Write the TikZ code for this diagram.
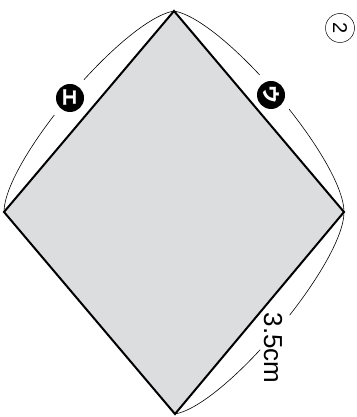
\documentclass[tikz,border=0pt]{standalone}
\usepackage{fontspec}
\newfontfamily\jpfont{Noto Sans CJK JP}
\newfontfamily\labfont{Liberation Sans}
\usetikzlibrary{positioning}
\definecolor{rhombgray}{RGB}{220,221,223}

\begin{document}
\begin{tikzpicture}[
  x=1pt, y=1pt,
  edge/.style = {draw=black, line width=2pt, line join=miter, fill=rhombgray},
  dimarc/.style = {draw=black, line width=0.6pt, looseness=0.5},
  halo/.style = {circle, fill=white, minimum size=46pt, inner sep=0pt},
  tag/.style = {circle, fill=black, text=white, minimum size=28pt, inner sep=0pt,
                font=\jpfont\bfseries\fontsize{18}{18}\selectfont, rotate=-90}
  ]
	\useasboundingbox (0,0) rectangle (356,417);

	\coordinate (top) at (174,406);
	\coordinate (left) at (4,205);
	\coordinate (right) at (344,205);
	\coordinate (bottom) at (175,3);

	% dimension arcs
	\draw[dimarc] (top) to[bend right=40] (left);
	\draw[dimarc] (top) to[bend left=40] (right);
	\draw[dimarc] (right) to[bend left=40] (bottom);

	\node[halo] (gapE) at (70,319) {};
	\node[halo] (gapU) at (271,322) {};
	\node[halo] (gapL) at (272,87) {};

	% the rhombus
	\draw[edge] (top) -- (left) -- (bottom) -- (right) -- cycle;

	\node[tag] (tagE) at (gapE) {エ};
	\node[tag] (tagU) at (gapU) {ウ};
	\node[rotate=-90, font=\labfont\fontsize{26}{26}\selectfont] (len) at (273,69) {3.5cm};
	\node[circle, draw, line width=0.5pt, minimum size=29pt, inner sep=0pt, rotate=-90,
	      font=\labfont\fontsize{20}{20}\selectfont] (num) at (340,389) {2};
\end{tikzpicture}
\end{document}
